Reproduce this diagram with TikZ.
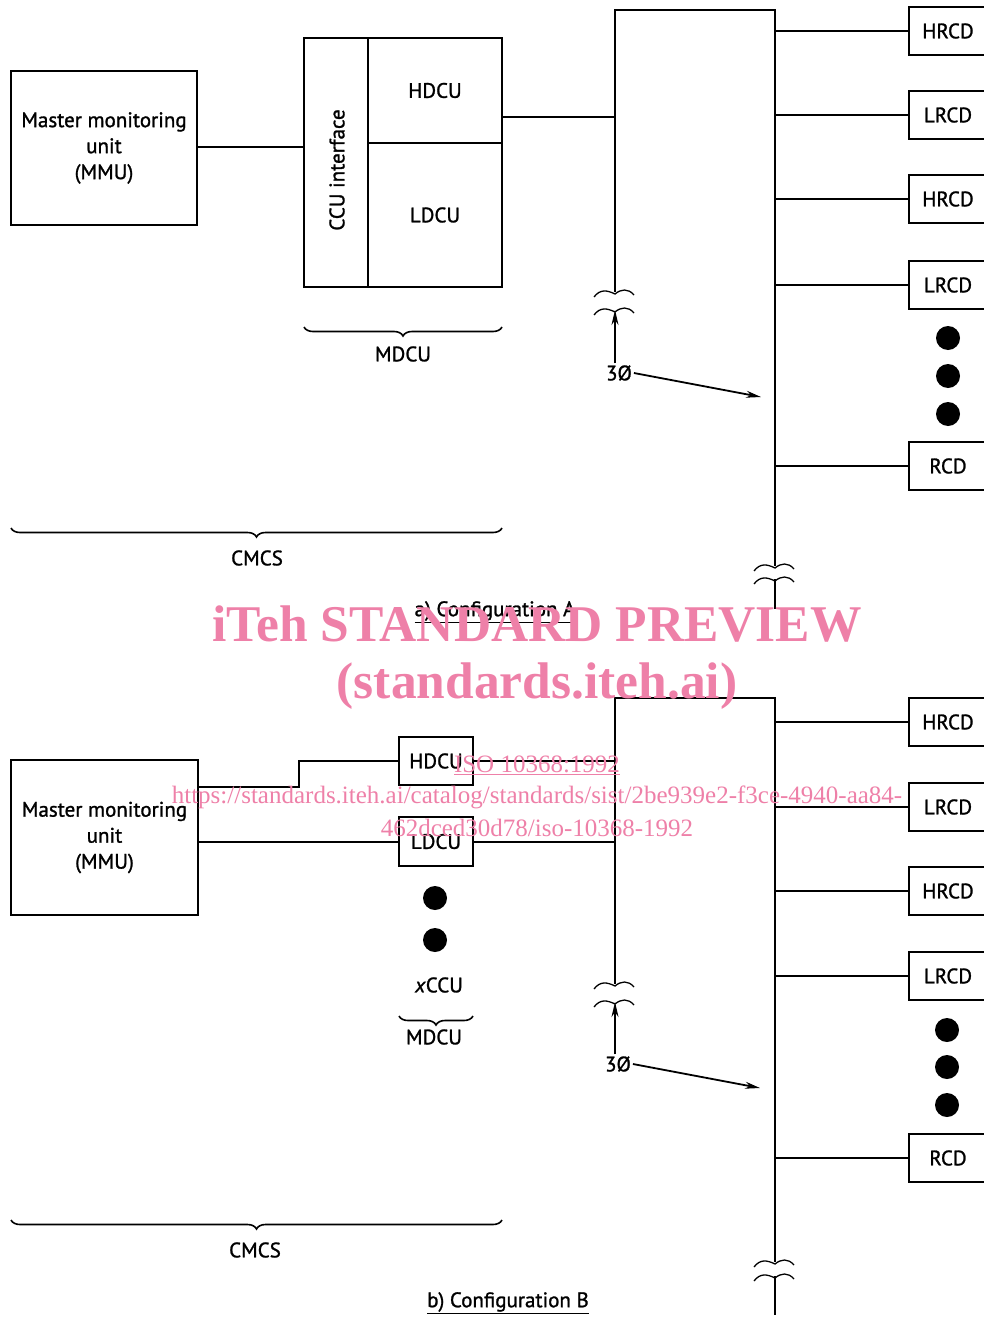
\documentclass[tikz,border=0pt]{standalone}
\usepackage{fontspec}
\setmainfont{PT Sans}[FakeBold=1.2]
\newfontfamily\wmfont{Liberation Serif}
\usetikzlibrary{
    arrows.meta,
    positioning,
    calc,
    decorations.pathreplacing
}
\definecolor{wmpink}{RGB}{238,128,168}
\newcommand{\lbl}{\fontsize{21}{26}\selectfont}
\tikzstyle{unitbox} = [
    draw,
    line width=2.2pt,
    inner sep=0pt,
    outer sep=0pt,
    align=center,
    font=\lbl
]
\tikzstyle{rcdbox} = [
    unitbox,
    minimum width=78pt,
    minimum height=48pt
]
\tikzstyle{txt} = [
    font=\lbl,
    inner sep=1pt
]
\tikzstyle{brc} = [
    decorate,
    decoration={brace, amplitude=9pt},
    line width=1.6pt
]
\tikzstyle{feed} = [
    -{Stealth[length=15pt, width=7pt]},
    line width=1.8pt
]
\tikzset{
    brk/.pic={
        \draw[line width=1.3pt] (-21,5) .. controls (-15,-3) and (-8,-2) .. (0,2)
            .. controls (6,-3) and (13,-4) .. (19,3);
    }
}

\begin{document}
\begin{tikzpicture}[x=1pt, y=-1pt, line width=2pt]
    \useasboundingbox (0,0) rectangle (984,1319);

    % Configuration A: monitoring unit and MDCU
    \node[unitbox, minimum width=186pt, minimum height=154pt] (mmuA) at (104,148) {Master monitoring\\unit\\(MMU)};
    \node[unitbox, minimum width=64pt, minimum height=249pt] (ccuA) at (336,162.5) {};
    \node[txt, rotate=90] (ccuTxt) at (337,170) {CCU interface};
    \node[unitbox, minimum width=134pt, minimum height=105pt, anchor=north west] (hdcuA) at (ccuA.north east) {HDCU};
    \node[unitbox, minimum width=134pt, minimum height=144pt, anchor=north west] (ldcuA) at (hdcuA.south west) {LDCU};
    \draw (mmuA.east |- 0,147) -- (ccuA.west |- 0,147);

    % Configuration A: feeder and bus
    \coordinate (topA) at (615,10);
    \coordinate (cornerA) at (775,10);
    \coordinate (cutA) at (615,292);
    \coordinate (brkA) at (615,310);
    \coordinate (endA) at (775,566);
    \coordinate (restA) at (775,579);
    \draw (hdcuA.east |- 0,117) -- (topA |- 0,117);
    \draw (cutA) -- (topA) -- (cornerA) -- (endA);
    \draw (restA) -- ++(0,30);
    \pic at (cutA) {brk};
    \pic at (brkA) {brk};
    \pic at (endA) {brk};
    \pic at (restA) {brk};

    % Configuration A: remote units
    \foreach \y/\t [count=\i] in {31/HRCD,115/LRCD,199/HRCD,285/LRCD,466/RCD} {
        \node[rcdbox] (rA\i) at (948,\y) {\t};
        \draw (rA\i.west -| cornerA) -- (rA\i.west);
    }
    \foreach \y in {338,376,414}
        \fill (948,\y) circle (12pt);

    % Configuration A: phase arrows
    \node[txt] (phA) at (619,373) {3Ø};
    \coordinate (hitA) at (761,397);
    \draw[feed] (brkA |- phA.north) -- (brkA);
    \draw[feed] (phA.east) -- (hitA);

    % Configuration A: braces and caption
    \draw[brc] (ldcuA.east |- 0,327) -- (ccuA.west |- 0,327);
    \node[txt] (mdcuA) at (403,354) {MDCU};
    \draw[brc] (502,528) -- (mmuA.west |- 0,528);
    \node[txt] (cmcsA) at (257,558) {CMCS};
    \node[txt] (capA) at (495,612) {\underline{a)\ Configuration A}};

    % Configuration B: monitoring unit and control units
    \node[unitbox, minimum width=187pt, minimum height=155pt] (mmuB) at (104.5,837.5) {Master monitoring\\unit\\(MMU)};
    \node[unitbox, minimum width=74pt, minimum height=48pt] (hdcuB) at (436,761) {HDCU};
    \node[unitbox, minimum width=74pt, minimum height=49pt] (ldcuB) at (436,841.5) {LDCU};
    \coordinate (stepB) at (299,787);
    \draw (mmuB.east |- stepB) -- (stepB) -- (stepB |- hdcuB.west) -- (hdcuB.west);
    \draw (mmuB.east |- ldcuB.west) -- (ldcuB.west);
    \foreach \y in {898,940}
        \fill (435,\y) circle (12pt);
    \node[txt] (xccu) at (439,985) {\textit{x}CCU};

    % Configuration B: feeder and bus
    \coordinate (topB) at (615,698);
    \coordinate (cornerB) at (775,698);
    \coordinate (cutB) at (615,984);
    \coordinate (brkB) at (615,1002);
    \coordinate (endB) at (775,1262);
    \coordinate (restB) at (775,1276);
    \draw (hdcuB.east) -- (topB |- hdcuB.east);
    \draw (ldcuB.east) -- (topB |- ldcuB.east);
    \draw (cutB) -- (topB) -- (cornerB) -- (endB);
    \draw (restB) -- ++(0,39);
    \pic at (cutB) {brk};
    \pic at (brkB) {brk};
    \pic at (endB) {brk};
    \pic at (restB) {brk};

    % Configuration B: remote units
    \foreach \y/\t [count=\i] in {722/HRCD,807/LRCD,891/HRCD,976/LRCD,1158/RCD} {
        \node[rcdbox] (rB\i) at (948,\y) {\t};
        \draw (rB\i.west -| cornerB) -- (rB\i.west);
    }
    \foreach \y in {1030,1067,1105}
        \fill (947,\y) circle (12pt);

    % Configuration B: phase arrows
    \node[txt] (phB) at (618,1064) {3Ø};
    \coordinate (hitB) at (760,1088);
    \draw[feed] (brkB |- phB.north) -- (brkB);
    \draw[feed] (phB.east) -- (hitB);

    % Configuration B: braces and caption
    \draw[brc] (ldcuB.east |- 0,1016) -- (ldcuB.west |- 0,1016);
    \node[txt] (mdcuB) at (434,1037) {MDCU};
    \draw[brc] (502,1220) -- (mmuB.west |- 0,1220);
    \node[txt] (cmcsB) at (255,1250) {CMCS};
    \node[txt] (capB) at (508,1303) {\underline{b)\ Configuration B}};

    % Watermark
    \node[text=wmpink, font=\wmfont\bfseries\fontsize{51.5}{52}\selectfont] (wm1) at (537,624) {iTeh STANDARD PREVIEW};
    \node[text=wmpink, font=\wmfont\bfseries\fontsize{51.5}{52}\selectfont] (wm2) at (537,686) {(standards.iteh.ai)};
    \node[text=wmpink, font=\wmfont\fontsize{25}{31}\selectfont] (wm3) at (537,765) {\underline{ISO 10368:1992}};
    \node[text=wmpink, font=\wmfont\fontsize{25}{31}\selectfont] (wm4) at (537,797) {https://standards.iteh.ai/catalog/standards/sist/2be939e2-f3ce-4940-aa84-};
    \node[text=wmpink, font=\wmfont\fontsize{25}{31}\selectfont] (wm5) at (537,828) {462dced30d78/iso-10368-1992};
\end{tikzpicture}
\end{document}
